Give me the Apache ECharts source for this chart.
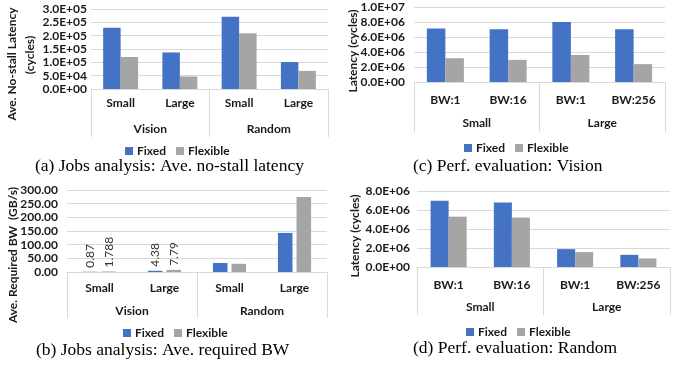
<!DOCTYPE html>
<html lang="en">
<head>
    <meta charset="utf-8"/>
    <title>Fixed vs Flexible</title>
    <script src="https://cdn.jsdelivr.net/npm/echarts@6/dist/echarts.min.js"></script>
    <style>
        html, body { margin: 0; padding: 0; background: #fff; }
        #chart { width: 676px; height: 369px; }
    </style>
</head>
<body>
<div id="chart"></div>
<script>
    // (a)/(b) jobs analysis
    var jobGroups = ['Vision', 'Random'];
    var jobSizes = ['Small', 'Large', 'Small', 'Large'];
    var latFixed = [230000, 137000, 271000, 101000];
    var latFlexible = [120000, 47000, 209000, 68000];
    var bwFixed = [0.87, 4.38, 33, 143];
    var bwFlexible = [1.788, 7.79, 30, 274];

    // (c)/(d) perf. evaluation
    var perfGroups = ['Small', 'Large'];
    var perfBw = ['BW:1', 'BW:16', 'BW:1', 'BW:256'];
    var visionFixed = [7150000, 7030000, 8000000, 7030000];
    var visionFlexible = [3170000, 2950000, 3600000, 2380000];
    var randomFixed = [6980000, 6780000, 1880000, 1280000];
    var randomFlexible = [5300000, 5200000, 1570000, 900000];

    var legendNames = ['Fixed', 'Flexible'];
    var colors = ['#4472c4', '#a5a5a5'];
    var font = 'Lato';

    function sci(v) {
        var p = v.toExponential(1).split('e');
        var e = parseInt(p[1], 10);
        var a = Math.abs(e);
        return p[0] + 'E' + (e < 0 ? '-' : '+') + (a < 10 ? '0' : '') + a;
    }

    // one entry per panel
    var panels = [
        { // (a)
            grid: {left: 91, top: 9, width: 237, height: 80},
            cats: jobSizes, groups: jobGroups, fixed: latFixed, flex: latFlexible,
            max: 300000, interval: 50000, fmt: sci, yMargin: 4,
            m1: 8, m2: 34, tickLen: 48, catGap: '41%', barGap: '0%',
            legend: {left: 120, top: 140},
            title: [{text: 'Ave. No-stall Latency', x: 12, y: 64}, {text: '(cycles)', x: 30, y: 55}],
            caption: {text: '(a) Jobs analysis: Ave. no-stall latency', x: 35, y: 166}
        },
        { // (c)
            grid: {left: 414, top: 7, width: 251, height: 75},
            cats: perfBw, groups: perfGroups, fixed: visionFixed, flex: visionFlexible,
            max: 10000000, interval: 2000000, fmt: sci, yMargin: 9,
            m1: 12, m2: 35, tickLen: 50, catGap: '41%', barGap: '0%',
            legend: {left: 459, top: 137},
            title: [{text: 'Latency (cycles)', x: 353, y: 51}],
            caption: {text: '(c) Perf. evaluation: Vision', x: 413, y: 166}
        },
        { // (b)
            grid: {left: 67, top: 190, width: 260, height: 82},
            cats: jobSizes, groups: jobGroups, fixed: bwFixed, flex: bwFlexible,
            max: 300, interval: 50, fmt: function (v) { return v.toFixed(2); }, yMargin: 9,
            m1: 10, m2: 33, tickLen: 46, catGap: '49%', barGap: '28%',
            legend: {left: 118, top: 322},
            title: [{text: 'Ave. Required BW  (GB/s)', x: 13, y: 255}],
            caption: {text: '(b) Jobs analysis: Ave. required BW', x: 36, y: 350},
            labelled: 2
        },
        { // (d)
            grid: {left: 417, top: 191, width: 253, height: 76},
            cats: perfBw, groups: perfGroups, fixed: randomFixed, flex: randomFlexible,
            max: 8000000, interval: 2000000, fmt: sci, yMargin: 7,
            m1: 12, m2: 34, tickLen: 48, catGap: '43%', barGap: '0%',
            legend: {left: 461, top: 321},
            title: [{text: 'Latency (cycles)', x: 355, y: 236}],
            caption: {text: '(d) Perf. evaluation: Random', x: 413, y: 348}
        }
    ];

    var labelStyle = {fontFamily: font, fontWeight: 'bold', fontSize: 12, color: '#1a1a1a'};
    var grids = [], xAxes = [], yAxes = [], series = [], legends = [], graphics = [];

    panels.forEach(function (p, i) {
        grids.push(p.grid);
        // inner categories
        xAxes.push({
            gridIndex: i, type: 'category', position: 'bottom', data: p.cats,
            axisLine: {show: true, lineStyle: {color: '#d9d9d9'}},
            axisTick: {show: false},
            axisLabel: Object.assign({margin: p.m1, interval: 0}, labelStyle)
        });
        // outer groups with separator lines
        xAxes.push({
            gridIndex: i, type: 'category', position: 'bottom', data: p.groups,
            axisLine: {show: false},
            axisTick: {show: true, length: p.tickLen, alignWithLabel: false, interval: 0,
                lineStyle: {color: '#d9d9d9'}},
            axisLabel: Object.assign({margin: p.m2, interval: 0}, labelStyle)
        });
        yAxes.push({
            gridIndex: i, type: 'value', min: 0, max: p.max, interval: p.interval,
            axisLine: {show: false}, axisTick: {show: false},
            splitLine: {lineStyle: {color: '#d9d9d9'}},
            axisLabel: Object.assign({margin: p.yMargin, formatter: p.fmt}, labelStyle)
        });

        [p.fixed, p.flex].forEach(function (vals, k) {
            var data = vals.map(function (v, j) {
                return (p.labelled && j < p.labelled) ? {value: v, label: {show: true}} : v;
            });
            series.push({
                name: legendNames[k], type: 'bar', xAxisIndex: i * 2, yAxisIndex: i,
                data: data, barGap: p.barGap, barCategoryGap: p.catGap,
                itemStyle: {color: colors[k]},
                label: {
                    show: false, position: 'top', rotate: 90, align: 'left', verticalAlign: 'middle',
                    distance: 4, fontFamily: font, fontSize: 12, color: '#333',
                    formatter: function (d) { return String(d.value); }
                }
            });
        });

        legends.push({
            left: p.legend.left, top: p.legend.top, data: legendNames,
            icon: 'rect', itemWidth: 8, itemHeight: 8, itemGap: 10,
            textStyle: {fontFamily: font, fontWeight: 'bold', fontSize: 12, color: '#1a1a1a', padding: [0, 0, 0, -1]}
        });

        p.title.forEach(function (t) {
            graphics.push({
                type: 'text', x: t.x, y: t.y, rotation: Math.PI / 2,
                style: {text: t.text, align: 'center', verticalAlign: 'middle',
                    font: 'bold 12px Lato', fill: '#1a1a1a'}
            });
        });
        graphics.push({
            type: 'text', x: p.caption.x, y: p.caption.y,
            style: {text: p.caption.text, align: 'left', verticalAlign: 'middle',
                font: '17.5px "Liberation Serif"', fill: '#000'}
        });
    });

    var myChart = echarts.init(document.getElementById('chart'));
    var options = {
        animation: false,
        color: colors,
        grid: grids,
        xAxis: xAxes,
        yAxis: yAxes,
        legend: legends,
        series: series,
        graphic: graphics
    };
    myChart.setOption(options);
</script>
</body>
</html>
